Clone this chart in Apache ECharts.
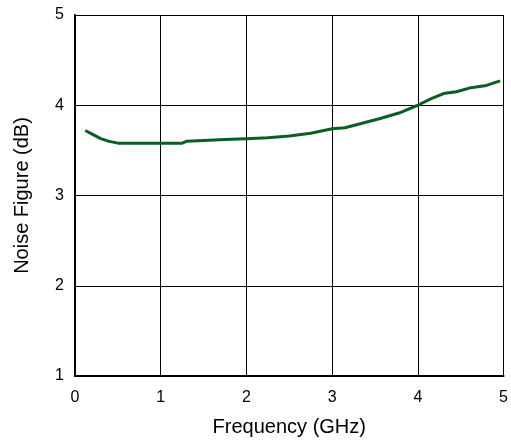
<!DOCTYPE html>
<html><head><meta charset="utf-8">
<script src="https://cdn.jsdelivr.net/npm/echarts@6/dist/echarts.min.js"></script>
<style>html,body{margin:0;padding:0;background:#fff}#c{width:511px;height:442px}</style>
</head><body><div id="c"></div>
<script>
const freq = [0.12,0.2,0.3,0.4,0.5,0.8,1.0,1.25,1.3,1.5,1.75,2.0,2.25,2.5,2.75,3.0,3.15,3.35,3.55,3.8,4.0,4.15,4.3,4.45,4.6,4.8,4.96];
const nf   = [3.72,3.68,3.63,3.60,3.58,3.58,3.58,3.58,3.60,3.61,3.62,3.63,3.64,3.66,3.69,3.74,3.75,3.80,3.85,3.92,4.00,4.07,4.13,4.15,4.19,4.22,4.27];
const xName = 'Frequency (GHz)';
const yName = 'Noise Figure (dB)';
const chart = echarts.init(document.getElementById('c'));
const font = 'Liberation Sans, Arial, sans-serif';
chart.setOption({
  animation:false,
  grid:{left:75,right:5,top:15,bottom:65},
  xAxis:{type:'value',min:0,max:5,interval:1,name:xName,nameLocation:'middle',nameGap:41,
    nameTextStyle:{fontSize:20,color:'#000',fontFamily:font},
    axisLine:{show:true,lineStyle:{color:'#000',width:2}},axisTick:{show:false},
    axisLabel:{fontSize:16,color:'#000',fontFamily:font,margin:14},
    splitLine:{show:true,lineStyle:{color:'#000',width:1}}},
  yAxis:{type:'value',min:1,max:5,interval:1,name:yName,nameLocation:'middle',nameGap:43,
    nameTextStyle:{fontSize:20,color:'#000',fontFamily:font},
    axisLine:{show:true,lineStyle:{color:'#000',width:2}},axisTick:{show:false},
    axisLabel:{fontSize:16,color:'#000',fontFamily:font,margin:11},
    splitLine:{show:true,lineStyle:{color:'#000',width:1}}},
  series:[{type:'line',data:freq.map((f,i)=>[f,nf[i]]),showSymbol:false,smooth:false,
    lineStyle:{color:'#0b5e24',width:3}}]
});
</script></body></html>
